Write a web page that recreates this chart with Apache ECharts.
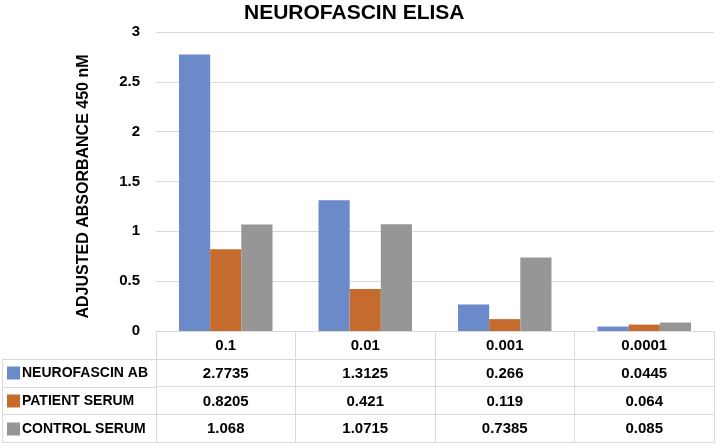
<!DOCTYPE html>
<html><head><meta charset="utf-8">
<script src="https://cdn.jsdelivr.net/npm/echarts@6/dist/echarts.min.js"></script>
<style>html,body{margin:0;padding:0;background:#fff}#c{width:716px;height:444px}</style>
</head><body><div id="c"></div>
<script>
const categories = ['0.1', '0.01', '0.001', '0.0001'];
const seriesNames = ['NEUROFASCIN AB', 'PATIENT SERUM', 'CONTROL SERUM'];
const neurofascinAb = [2.7735, 1.3125, 0.266, 0.0445];
const patientSerum = [0.8205, 0.421, 0.119, 0.064];
const controlSerum = [1.068, 1.0715, 0.7385, 0.085];
const yTicks = [0, 0.5, 1, 1.5, 2, 2.5, 3];
const colors = ['#6a8ac9', '#c56b2d', '#969696'];

const FONT = 'Liberation Sans';
const lineColor = '#d9d9d9';
const gridLeft = 156, gridRight = 2, gridTop = 32, gridBottom = 113;
const rowH = 27.75;
const allValues = [neurofascinAb, patientSerum, controlSerum];

const chart = echarts.init(document.getElementById('c'), null, {renderer: 'canvas'});

function tableAxis(dataArr, offset, showLabels) {
  return {
    type: 'category', gridIndex: 0, position: 'bottom', offset: offset,
    data: dataArr.map(String),
    axisLine: {show: true, lineStyle: {color: lineColor, width: 1}},
    axisTick: {show: showLabels, length: rowH, lineStyle: {color: lineColor}},
    axisLabel: {show: showLabels, margin: rowH / 2 + 1, verticalAlign: 'middle',
      fontFamily: FONT, fontWeight: 'bold', fontSize: 15, color: '#000'},
    splitLine: {show: false}
  };
}

const xAxes = [tableAxis(categories, 0, true)];
allValues.forEach((arr, i) => xAxes.push(tableAxis(arr, rowH * (i + 1), true)));
xAxes.push(tableAxis(categories, rowH * 4, false));

const H = 444;
const y0 = H - gridBottom;
const leftX = 2;
const graphics = [];
for (let r = 1; r <= 4; r++) {
  const y = Math.round(y0 + rowH * r) + 0.5;
  graphics.push({type: 'line', shape: {x1: leftX, y1: y, x2: gridLeft, y2: y},
    style: {stroke: lineColor, lineWidth: 1}, silent: true});
}
graphics.push({type: 'line', shape: {x1: leftX + 0.5, y1: Math.round(y0 + rowH) + 0.5, x2: leftX + 0.5, y2: Math.round(y0 + rowH * 4) + 0.5},
  style: {stroke: lineColor, lineWidth: 1}, silent: true});

const legends = seriesNames.map((n, i) => ({
  data: [n], orient: 'horizontal', left: 7, top: Math.round(y0 + rowH * (i + 1.5) - 6.5),
  itemWidth: 13, itemHeight: 13, itemGap: 0, icon: 'rect', selectedMode: false, padding: 0,
  textStyle: {fontFamily: FONT, fontWeight: 'bold', fontSize: 14, color: '#000', padding: [1, 0, 0, -3]}
}));

chart.setOption({
  animation: false,
  color: colors,
  title: {text: 'NEUROFASCIN ELISA', left: 239, top: -2,
    textStyle: {fontFamily: FONT, fontWeight: 'bold', fontSize: 21, color: '#000'}},
  legend: legends,
  grid: {left: gridLeft, right: gridRight, top: gridTop, bottom: gridBottom, containLabel: false},
  xAxis: xAxes,
  yAxis: {type: 'value', min: 0, max: 3, interval: 0.5,
    name: 'ADJUSTED ABSORBANCE 450 nM', nameLocation: 'middle', nameGap: 64,
    nameTextStyle: {fontFamily: FONT, fontWeight: 'bold', fontSize: 16, color: '#000', padding: [0, 10, 0, 0]},
    axisLine: {show: false}, axisTick: {show: false},
    axisLabel: {margin: 16, fontFamily: FONT, fontWeight: 'bold', fontSize: 15, color: '#000',
      formatter: v => String(v)},
    splitLine: {lineStyle: {color: lineColor, width: 1}}},
  series: seriesNames.map((n, i) => ({
    name: n, type: 'bar', xAxisIndex: 0, data: allValues[i],
    barGap: '0%', barCategoryGap: '33%', itemStyle: {color: colors[i]}
  })),
  graphic: graphics
});
</script></body></html>
